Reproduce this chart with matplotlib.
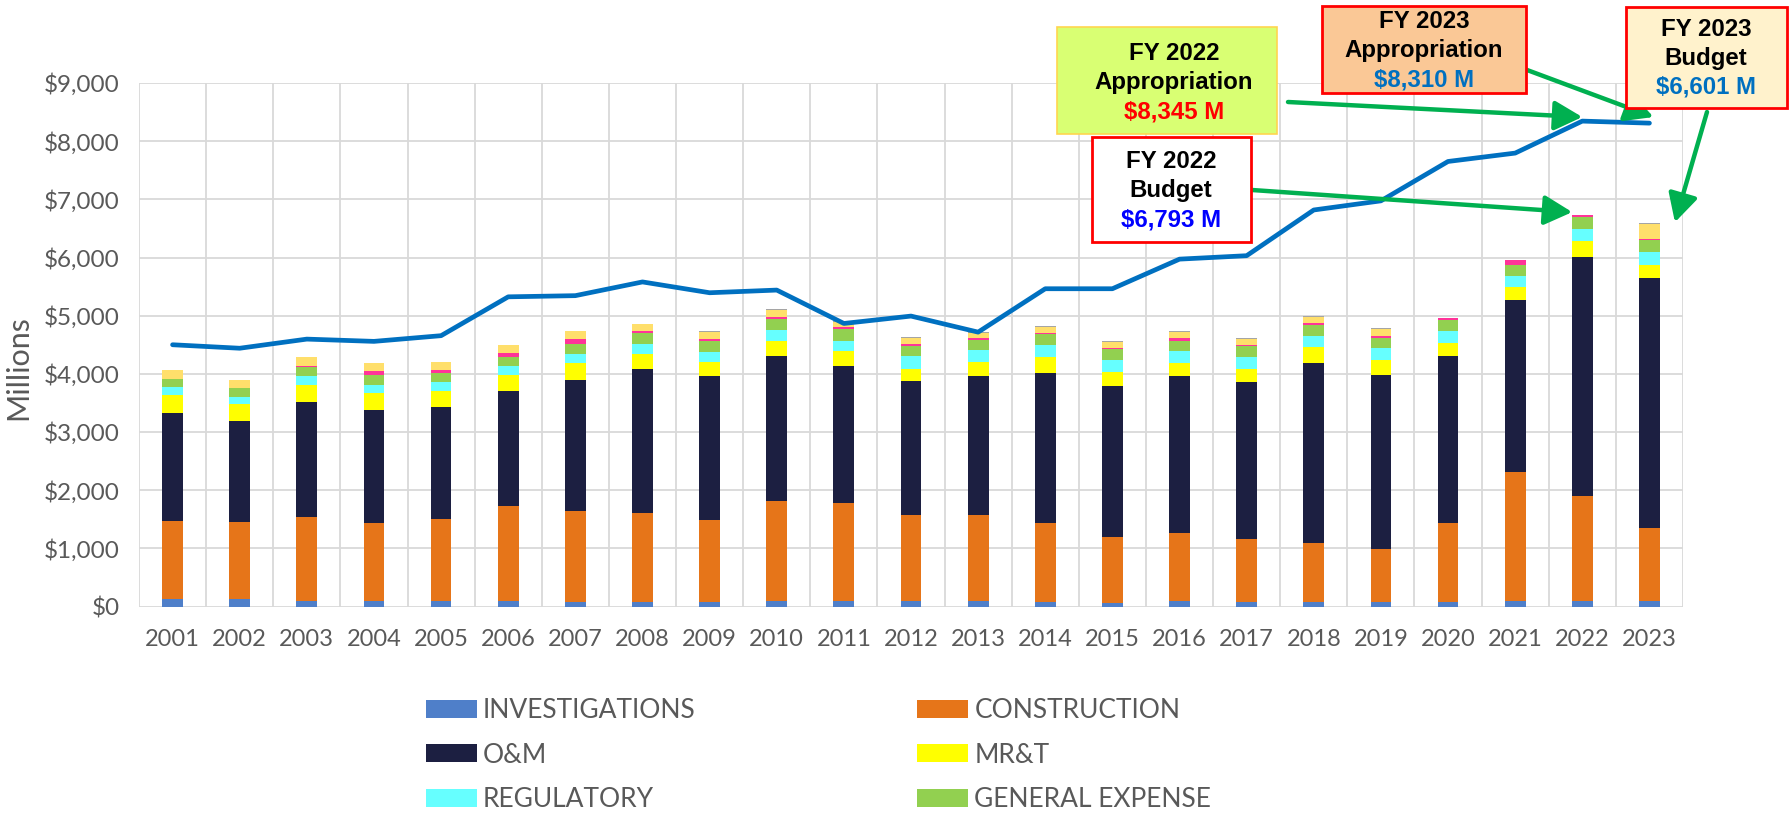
import matplotlib.pyplot as plt
from matplotlib.patches import Rectangle, Patch
import numpy as np

plt.rcParams['font.family'] = ['Lato', 'DejaVu Sans']

years = [2001, 2002, 2003, 2004, 2005, 2006, 2007, 2008, 2009, 2010, 2011, 2012,
         2013, 2014, 2015, 2016, 2017, 2018, 2019, 2020, 2021, 2022, 2023]

# $ millions
investigations = [126, 121, 98, 92, 86, 86, 83, 83, 83, 89, 100, 95, 89, 83, 66, 89, 72, 72, 72, 72, 95, 101, 95]
construction = [1350, 1332, 1447, 1349, 1418, 1642, 1563, 1523, 1408, 1728, 1683, 1483, 1476, 1350, 1132, 1171,
                1091, 1022, 913, 1372, 2216, 1793, 1257]
om = [1849, 1734, 1975, 1935, 1924, 1976, 2251, 2470, 2470, 2492, 2354, 2307, 2396, 2578, 2595, 2710, 2704,
      3100, 3003, 2871, 2957, 4116, 4295]
mrt = [315, 287, 293, 287, 275, 275, 281, 259, 235, 253, 247, 206, 235, 281, 241, 219, 224, 259, 247, 218, 224, 281, 230]
regulatory = [127, 126, 143, 144, 150, 155, 166, 172, 184, 184, 189, 207, 212, 201, 207, 212, 201, 195, 201, 207,
              189, 201, 210]
general_expense = [149, 149, 161, 172, 166, 161, 167, 189, 178, 189, 196, 178, 172, 184, 183, 172, 178, 184, 183,
                   178, 190, 201, 214]
# the last three accounts have no visible legend entry in the original (legend runs off the bottom)
fcce = [0, 0, 23, 69, 41, 69, 80, 40, 34, 35, 34, 29, 28, 23, 18, 35, 23, 35, 23, 35, 80, 46, 17]
fusrap = [144, 138, 144, 144, 149, 140, 141, 126, 132, 132, 92, 109, 98, 103, 103, 109, 98, 115, 121, 0, 0, 0, 259]
asa = [0, 0, 0, 0, 0, 0, 0, 0, 16, 17, 15, 17, 15, 17, 17, 17, 17, 17, 17, 0, 0, 0, 17]

appropriation = [4500, 4440, 4597, 4558, 4656, 5324, 5344, 5580, 5394, 5440, 4866, 4993, 4717, 5463, 5463,
                 5972, 6031, 6817, 6974, 7651, 7795, 8345, 8310]

stacks = [investigations, construction, om, mrt, regulatory, general_expense, fcce, fusrap, asa]
names = ["INVESTIGATIONS", "CONSTRUCTION", "O&M", "MR&T", "REGULATORY", "GENERAL EXPENSE", "FCCE", "FUSRAP", "ASA"]
colors = ["#4F7FC9", "#E67519", "#1C1F41", "#FFFF00", "#66FFFF", "#92D050", "#FF3399", "#FFDF6B", "#A5A5A5"]

W, H = 1790, 815
fig = plt.figure(figsize=(W / 100, H / 100), dpi=100)
ax = fig.add_axes([139 / W, 1 - 606.5 / H, (1683 - 139) / W, (606.5 - 83) / H])

x = np.arange(len(years))
bottom = np.zeros(len(years))
for vals, name, col in zip(stacks, names, colors):
    ax.bar(x, vals, 0.31, bottom=bottom, color=col, label=name, zorder=2)
    bottom += np.array(vals)

ax.plot(x, appropriation, color="#0070C0", lw=3.4, zorder=3, solid_capstyle='round')

ax.set_xlim(-0.5, len(years) - 0.5)
ax.set_ylim(0, 9000)
yt = list(range(0, 9001, 1000))
ax.set_yticks(yt)
ax.set_yticklabels([r"\$" + f"{v:,}" for v in yt])
ax.set_xticks(x)
ax.set_xticklabels([str(y) for y in years])
ax.set_xticks(np.arange(-0.5, len(years)), minor=True)
ax.grid(axis='x', which='minor', color='#D9D9D9', lw=1.3, zorder=0)
ax.grid(axis='y', which='major', color='#D9D9D9', lw=1.3, zorder=0)
ax.set_axisbelow(True)
ax.tick_params(which='both', length=0, labelsize=17, labelcolor='#595959')
ax.tick_params(axis='y', labelsize=17.5, pad=14)
ax.tick_params(axis='x', pad=16)
for s in ax.spines.values():
    s.set_visible(False)
ax.set_ylabel("Millions", fontsize=22, color='#595959')
ax.yaxis.set_label_coords(-0.069, 0.456)


def px(xp, yp):
    return xp / W, 1 - yp / H


def add_box(x0, y0, x1, y1, face, edge, lw, cx, lines):
    fig.patches.append(Rectangle(px(x0, y1), (x1 - x0) / W, (y1 - y0) / H, transform=fig.transFigure,
                                 facecolor=face, edgecolor=edge, lw=lw, zorder=5))
    for txt, col, yp in lines:
        fig.text(cx / W, 1 - yp / H, txt, color=col, ha='center', va='center', fontsize=17.3,
                 fontweight='bold', family=['Liberation Sans', 'DejaVu Sans'], zorder=6)


def arrow(start, tip):
    ax.annotate("", xy=tip, xycoords='data', xytext=px(*start), textcoords='figure fraction',
                annotation_clip=False, zorder=4,
                arrowprops=dict(arrowstyle='-|>,head_length=0.85,head_width=0.45', color='#00B050',
                                lw=3.2, mutation_scale=20, shrinkA=0, shrinkB=0))


arrow((1288, 102), (21, 8415))
arrow((1519, 67), (22.06, 8415))
arrow((1252, 190), (20.85, 6780))
arrow((1707, 112), (22.38, 6606))

add_box(1057, 27, 1277, 134, "#D9FF73", "#FFD54F", 1.2, 1174,
        [("FY 2022", "black", 53), ("Appropriation", "black", 82), (r"\$8,345 M", "#FF0000", 112)])
add_box(1092, 137, 1251, 242, "white", "#FF0000", 2.0, 1171,
        [("FY 2022", "black", 162), ("Budget", "black", 191), (r"\$6,793 M", "#0000FF", 220)])
add_box(1322, 6, 1526, 93, "#FAC896", "#FF0000", 2.0, 1424,
        [("FY 2023", "black", 22), ("Appropriation", "black", 51), (r"\$8,310 M", "#0070C0", 80)])
add_box(1626, 7, 1787, 108, "#FFF2CC", "#FF0000", 2.0, 1706,
        [("FY 2023", "black", 30), ("Budget", "black", 58), (r"\$6,601 M", "#0070C0", 87)])

# legend row-wise in two columns; only the first six entries fit inside the picture
order = [0, 2, 4, 1, 3, 5]
handles = [Patch(facecolor=colors[i], edgecolor='none') for i in order]
labels = [names[i] for i in order]
fig.legend(handles, labels, ncol=2, loc='upper left', bbox_to_anchor=px(426, 698), frameon=False,
           fontsize=19, labelcolor='#595959', handlelength=1.93, handleheight=0.68, handletextpad=0.23,
           labelspacing=0.74, columnspacing=8.4, borderpad=0, borderaxespad=0)

fig.savefig("out.png", dpi=100)
